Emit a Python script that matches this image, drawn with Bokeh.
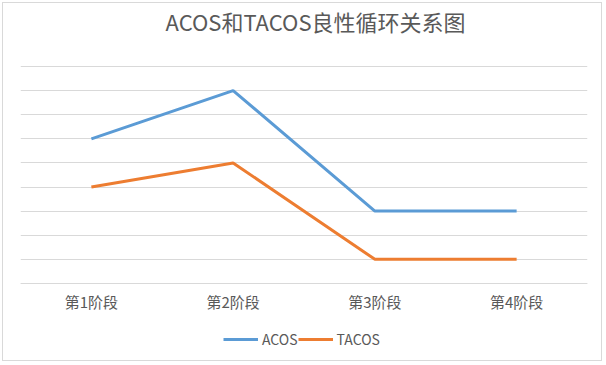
from bokeh.plotting import figure
from bokeh.models import FactorRange, Range1d, Legend, LegendItem, FixedTicker, Label
from bokeh.embed import file_html
from bokeh.resources import INLINE

title_text = "ACOS和TACOS良性循环关系图"
stages = ["第1阶段", "第2阶段", "第3阶段", "第4阶段"]
acos = [6, 8, 3, 3]
tacos = [4, 5, 1, 1]
grid_levels = [0, 1, 2, 3, 4, 5, 6, 7, 8, 9]

FONT = "Noto Sans CJK SC"
TXT = "#595959"

p = figure(width=600, height=359, x_range=FactorRange(*stages), y_range=Range1d(-3.28, 11.613),
           output_backend="svg", toolbar_location=None,
           min_border_left=17, min_border_right=16, min_border_top=0, min_border_bottom=0)
p.margin = (2, 0, 0, 2)
p.styles = {"border": "1px solid #d9d9d9"}

p.add_layout(Label(text=title_text, x=145, y=342, x_units="screen", y_units="screen",
                   text_align="left", text_baseline="middle", text_font=FONT,
                   text_font_size="22px", text_color=TXT))

p.outline_line_color = None
p.yaxis.visible = False
p.ygrid.ticker = FixedTicker(ticks=grid_levels)
p.ygrid.grid_line_color = "#d9d9d9"
p.ygrid.grid_line_width = 1
p.xgrid.visible = False

ax = p.xaxis[0]
ax.fixed_location = 0
ax.axis_line_color = "#d9d9d9"
ax.major_tick_line_color = None
ax.minor_tick_line_color = None
ax.major_label_text_font = FONT
ax.major_label_text_font_size = "15px"
ax.major_label_text_color = TXT
ax.major_label_standoff = 2

r1 = p.line(stages, acos, line_color="#5B9BD5", line_width=3)
r2 = p.line(stages, tacos, line_color="#ED7D31", line_width=3)

legend = Legend(items=[LegendItem(label="ACOS", renderers=[r1]),
                       LegendItem(label="TACOS", renderers=[r2])],
                orientation="horizontal", location=(203, 13),
                label_text_font=FONT, label_text_font_size="14px", label_text_color=TXT,
                glyph_width=35, glyph_height=16, spacing=0, padding=0, margin=0,
                label_standoff=4, border_line_color=None, background_fill_alpha=0)
p.add_layout(legend, "center")

open("out.html", "w").write(file_html(p, INLINE))
